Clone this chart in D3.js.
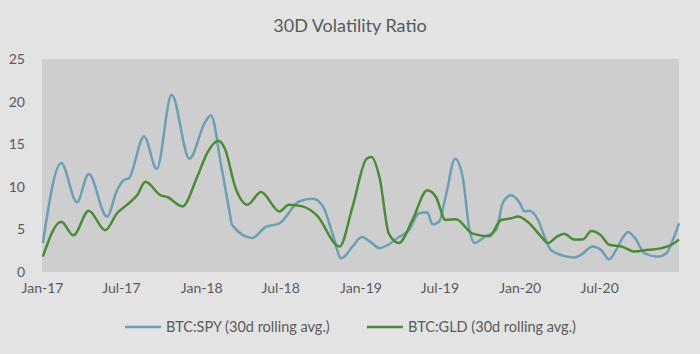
<!DOCTYPE html>
<html>
<head>
<meta charset="utf-8">
<script src="https://cdn.jsdelivr.net/npm/d3@7"></script>
<style>
  body { margin: 0; background: #e3e3e4; }
  text { font-family: Lato, "Open Sans", sans-serif; fill: #5a5a5a; }
</style>
</head>
<body>
<div id="chart"></div>
<script>
// BTC:SPY 30d rolling avg (dates + values)
const spyDates = ["2017-01-03","2017-02-14","2017-03-22","2017-04-18","2017-05-30","2017-06-22","2017-07-08","2017-07-19","2017-08-23","2017-09-21","2017-10-25","2017-12-05","2018-01-09","2018-01-23","2018-02-16","2018-03-06","2018-03-13","2018-04-28","2018-05-29","2018-06-29","2018-08-14","2018-09-14","2018-10-07","2018-10-29","2018-11-18","2018-12-14","2019-01-04","2019-01-22","2019-02-14","2019-03-30","2019-04-22","2019-05-15","2019-06-03","2019-06-15","2019-06-30","2019-07-15","2019-08-06","2019-08-23","2019-09-08","2019-09-19","2019-10-15","2019-11-08","2019-11-23","2019-12-12","2020-01-01","2020-01-12","2020-01-23","2020-02-12","2020-02-27","2020-03-12","2020-04-05","2020-05-05","2020-05-20","2020-06-16","2020-07-05","2020-07-24","2020-08-09","2020-08-25","2020-09-05","2020-09-21","2020-10-13","2020-11-13","2020-12-02","2020-12-14","2020-12-31"];
const spyValues = [3.4,12.8,8.2,11.5,6.5,9.6,10.8,11.0,15.9,12.1,20.8,13.3,17.5,18.4,12.4,7.3,5.5,4.0,5.3,5.7,8.3,8.6,7.7,4.5,1.6,3.0,4.1,3.6,2.8,4.1,4.9,6.9,7.0,5.6,5.9,8.8,13.3,11.2,4.9,3.4,4.2,4.9,8.1,9.0,8.1,7.1,7.2,6.1,4.1,2.6,2.0,1.7,2.0,3.0,2.6,1.5,2.6,4.1,4.7,4.0,2.2,1.8,2.2,3.4,5.7];

// BTC:GLD 30d rolling avg
const gldDates = ["2017-01-03","2017-02-14","2017-03-14","2017-04-18","2017-05-26","2017-06-22","2017-07-15","2017-08-07","2017-08-26","2017-09-30","2017-10-15","2017-11-19","2017-12-23","2018-01-16","2018-02-09","2018-02-24","2018-03-21","2018-04-17","2018-05-18","2018-06-29","2018-07-21","2018-08-21","2018-09-22","2018-11-14","2018-12-14","2019-01-15","2019-01-26","2019-02-14","2019-03-07","2019-03-30","2019-04-30","2019-06-03","2019-06-23","2019-07-15","2019-08-08","2019-09-15","2019-10-23","2019-11-19","2019-12-12","2019-12-28","2020-01-19","2020-02-20","2020-03-05","2020-03-28","2020-04-12","2020-05-05","2020-05-24","2020-06-13","2020-07-05","2020-07-24","2020-08-21","2020-09-21","2020-10-21","2020-11-21","2020-12-14","2020-12-31"];
const gldValues = [1.8,5.9,4.3,7.2,4.9,6.9,7.9,9.0,10.6,9.0,8.8,7.7,11.2,14.1,15.4,14.5,9.8,7.9,9.4,7.1,7.9,7.7,6.7,3.0,7.7,13.3,13.5,11.0,4.5,3.4,6.1,9.6,8.8,6.1,6.2,4.5,4.2,6.1,6.3,6.5,5.9,4.1,3.4,4.2,4.5,3.8,3.8,4.8,4.3,3.2,3.0,2.4,2.6,2.8,3.2,3.8];

const tickDates = ["2017-01-01","2017-07-01","2018-01-01","2018-07-01","2019-01-01","2019-07-01","2020-01-01","2020-07-01"];
const yTicks = [0, 5, 10, 15, 20, 25];

const seriesNames = ["BTC:SPY (30d rolling avg.)", "BTC:GLD (30d rolling avg.)"];
const colors = ["#6b9fb4", "#4b8a37"];

const width = 700, height = 354,
  margin = ({top: 59, right: 21, bottom: 82, left: 42});

const parse = d3.timeParse("%Y-%m-%d");
const fmt = d3.timeFormat("%b-%y");

const series = [
  spyDates.map((d, i) => ({date: parse(d), value: spyValues[i]})),
  gldDates.map((d, i) => ({date: parse(d), value: gldValues[i]}))
];

let svg = d3.select("#chart").append("svg")
  .attr("width", width).attr("height", height);

let x = d3.scaleTime()
  .domain([parse("2017-01-01"), parse("2020-12-31")])
  .range([margin.left, width - margin.right]);

let y = d3.scaleLinear()
  .domain([0, 25])
  .range([height - margin.bottom, margin.top]);

// plot background
svg.append("rect")
  .attr("x", margin.left).attr("y", margin.top)
  .attr("width", width - margin.right - margin.left)
  .attr("height", height - margin.bottom - margin.top)
  .attr("fill", "#cececf");

svg.append("text")
  .attr("x", width / 2).attr("y", 32)
  .attr("text-anchor", "middle")
  .style("font-size", "18px")
  .text("30D Volatility Ratio");

const xAxis = g => g
  .attr("transform", `translate(0, ${height - margin.bottom + 8})`)
  .call(d3.axisBottom(x).tickValues(tickDates.map(parse)).tickFormat(fmt).tickSize(0))
  .call(g => g.select(".domain").remove());

const yAxis = g => g
  .attr("transform", `translate(${margin.left - 14}, 0)`)
  .call(d3.axisLeft(y).tickValues(yTicks).tickSize(0))
  .call(g => g.select(".domain").remove());

svg.append("g").call(xAxis);
svg.append("g").call(yAxis);
svg.selectAll(".tick text").style("font-size", "14px").attr("fill", "#5a5a5a");

const line = d3.line()
  .x(d => x(d.date))
  .y(d => y(d.value))
  .curve(d3.curveMonotoneX);

svg.selectAll(".series")
  .data(series)
  .join("path")
  .attr("class", "series")
  .attr("fill", "none")
  .attr("stroke", (d, i) => colors[i])
  .attr("stroke-width", 2.5)
  .attr("stroke-linejoin", "round")
  .attr("d", line);

// legend
const legendX = [125, 367];
let legend = svg.selectAll(".legend")
  .data(seriesNames)
  .join("g")
  .attr("class", "legend")
  .attr("transform", (d, i) => `translate(${legendX[i]}, 327)`);

legend.append("line")
  .attr("x1", 0).attr("x2", 36)
  .attr("stroke", (d, i) => colors[i])
  .attr("stroke-width", 2.5);

legend.append("text")
  .attr("x", 41).attr("dy", "0.35em")
  .style("font-size", "14.5px")
  .text(d => d);
</script>
</body>
</html>
